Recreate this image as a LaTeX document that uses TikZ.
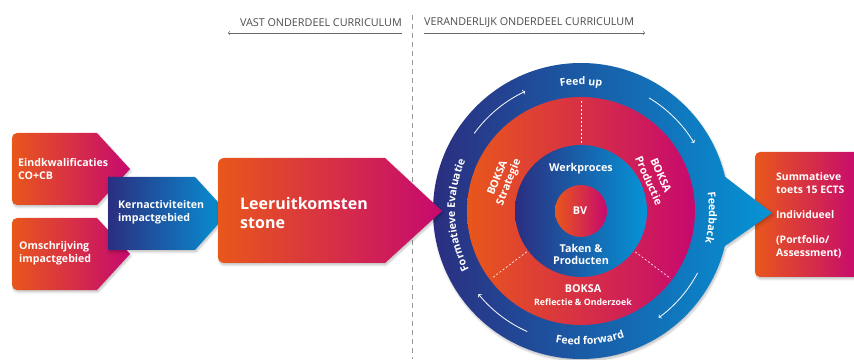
\documentclass[tikz,border=0pt]{standalone}
\usepackage{fontspec}
\setmainfont{Open Sans}
\usetikzlibrary{calc,decorations.text,shadows.blur}
\definecolor{orng}{HTML}{E8571B}
\definecolor{mgnt}{HTML}{C6096F}
\definecolor{dkblue}{HTML}{2B2E80}
\definecolor{ltblue}{HTML}{0594D6}
\tikzset{
warm/.style = {left color = orng, right color = mgnt},
cool/.style = {left color = dkblue, right color = ltblue},
boxshadow/.style = {blur shadow = {shadow xshift = 1pt, shadow yshift = -2pt, shadow blur steps = 6, shadow opacity = 25}},
boxtext/.style = {text = white, font = \bfseries\fontsize{10.6}{12.5}\selectfont, align = left, anchor = west, inner sep = 0pt},
ringtext/.style = {text = white, font = \bfseries\fontsize{10.8}{12.5}\selectfont, align = center, inner sep = 0pt},
ringlabel/.style = {decorate, decoration = {text along path, text align = center, text color = white, text = {|\bfseries\fontsize{10.6}{12}\selectfont|#1}}},
ringarrow/.style = {white, line width = 0.8pt, ->},
divider/.style = {white, line width = 0.6pt, dash pattern = on 2pt off 2pt},
hdrtext/.style = {text = black!70, font = \fontsize{10.8}{13}\selectfont, inner sep = 0pt},
hdrarrow/.style = {black!60, line width = 0.6pt, ->}}

\begin{document}
\begin{tikzpicture}[x=1pt, y=1pt]
\useasboundingbox (0,0) rectangle (854,359);
%
\def\rout{148} % outer ring
\def\rmid{114} % BOKSA ring
\def\rin{66} % werkproces circle
\def\rbv{26} % BV circle
\coordinate (C) at (581,148);
%
% header
\draw[black!40, line width = 0.8pt, dash pattern = on 5pt off 4pt](412,344)--(412,0);
\node[hdrtext, anchor = east] (vast) at (402,336) {VAST ONDERDEEL CURRICULUM};
\node[hdrtext, anchor = west] (veran) at (424,336) {VERANDERLIJK ONDERDEEL CURRICULUM};
\coordinate (vastend) at (228,326);
\coordinate (veranend) at (645,326);
\draw[hdrarrow](vast.east |- vastend)--(vastend);
\draw[hdrarrow](veran.west |- veranend)--(veranend);
%
% right box
\shade[warm, boxshadow](860,207)--(760,207)arc[start angle=90, end angle=180, radius=5]--(755,87)arc[start angle=180, end angle=270, radius=5]--(860,82)--cycle;
\node[boxtext, font = \bfseries\fontsize{10.4}{13}\selectfont] (summ) at (776,144) {Summatieve\\toets 15 ECTS\\[12pt]Individueel\\[12pt](Portfolio/\\Assessment)};
%
% circles
\shade[cool, boxshadow](C) circle (\rout) (715,106)--(772,146)--(715,190)--cycle;
\shade[warm](C) circle (\rmid);
\shade[cool](C) circle (\rin);
\shade[warm](C) circle (\rbv);
\foreach \a in {90,217,323}
  \draw[divider]($(C)+(\a:\rin+2)$)--($(C)+(\a:\rmid-2)$);
\foreach \a/\b in {144/115, 59/31, -28/-54, 246/219}
  \draw[ringarrow]($(C)+(\a:132)$)arc[start angle=\a, end angle=\b, radius=132];
%
% ring labels
\path[ringlabel={Feed up}]($(C)+(112:126)$)arc[start angle=112, end angle=68, radius=126];
\path[ringlabel={Feedback}]($(C)+(30:128)$)arc[start angle=30, end angle=-36, radius=128];
\path[ringlabel={Feed forward}]($(C)+(245:134)$)arc[start angle=245, end angle=303, radius=134];
\path[ringlabel={Formatieve Evaluatie}]($(C)+(242:126)$)arc[start angle=242, end angle=122, radius=126];
%
% inner texts
\node[ringtext, rotate = 68] (strat1) at ($(503,179)+(158:6.5)$) {BOKSA};
\node[ringtext, rotate = 68] (strat2) at ($(503,179)+(338:6.5)$) {Strategie};
\node[ringtext, rotate = -66] (prod1) at ($(655,181)+(24:6.5)$) {BOKSA};
\node[ringtext, rotate = -66] (prod2) at ($(655,181)+(204:6.5)$) {Productie};
\node[ringtext] (refl1) at (583,70) {BOKSA};
\node[ringtext, font = \bfseries\fontsize{8.8}{10}\selectfont] (refl2) at (583,57) {Reflectie \& Onderzoek};
\node[ringtext] (werk) at (581,190) {Werkproces};
\node[ringtext] (bv) at (580,148) {BV};
\node[ringtext] (taken1) at (581,111) {Taken \&};
\node[ringtext] (taken2) at (581,99) {Producten};
%
% left boxes
\shade[warm, boxshadow](97,226)--(17,226)arc[start angle=90, end angle=180, radius=5]--(12,159)arc[start angle=180, end angle=270, radius=5]--(97,154)--(130,190)--cycle;
\node[boxtext] (eind) at (18,190) {Eindkwalificaties\\CO+CB};
\shade[warm, boxshadow](97,141)--(17,141)arc[start angle=90, end angle=180, radius=5]--(12,74)arc[start angle=180, end angle=270, radius=5]--(97,69)--(130,105)--cycle;
\node[boxtext] (omschr) at (19,106) {Omschrijving\\impactgebied};
\shade[cool, boxshadow](195,182)--(108,182)--(108,109)--(195,109)--(228,146)--cycle;
\node[boxtext] (kern) at (118,147) {Kernactiviteiten\\impactgebied};
\shade[warm, boxshadow](385,201)--(224,201)arc[start angle=90, end angle=180, radius=6]--(218,102)arc[start angle=180, end angle=270, radius=6]--(385,96)--(442,148)--cycle;
\node[boxtext, font = \bfseries\fontsize{16}{19}\selectfont] (leer) at (240,146) {Leeruitkomsten\\stone};
%
\end{tikzpicture}
\end{document}
